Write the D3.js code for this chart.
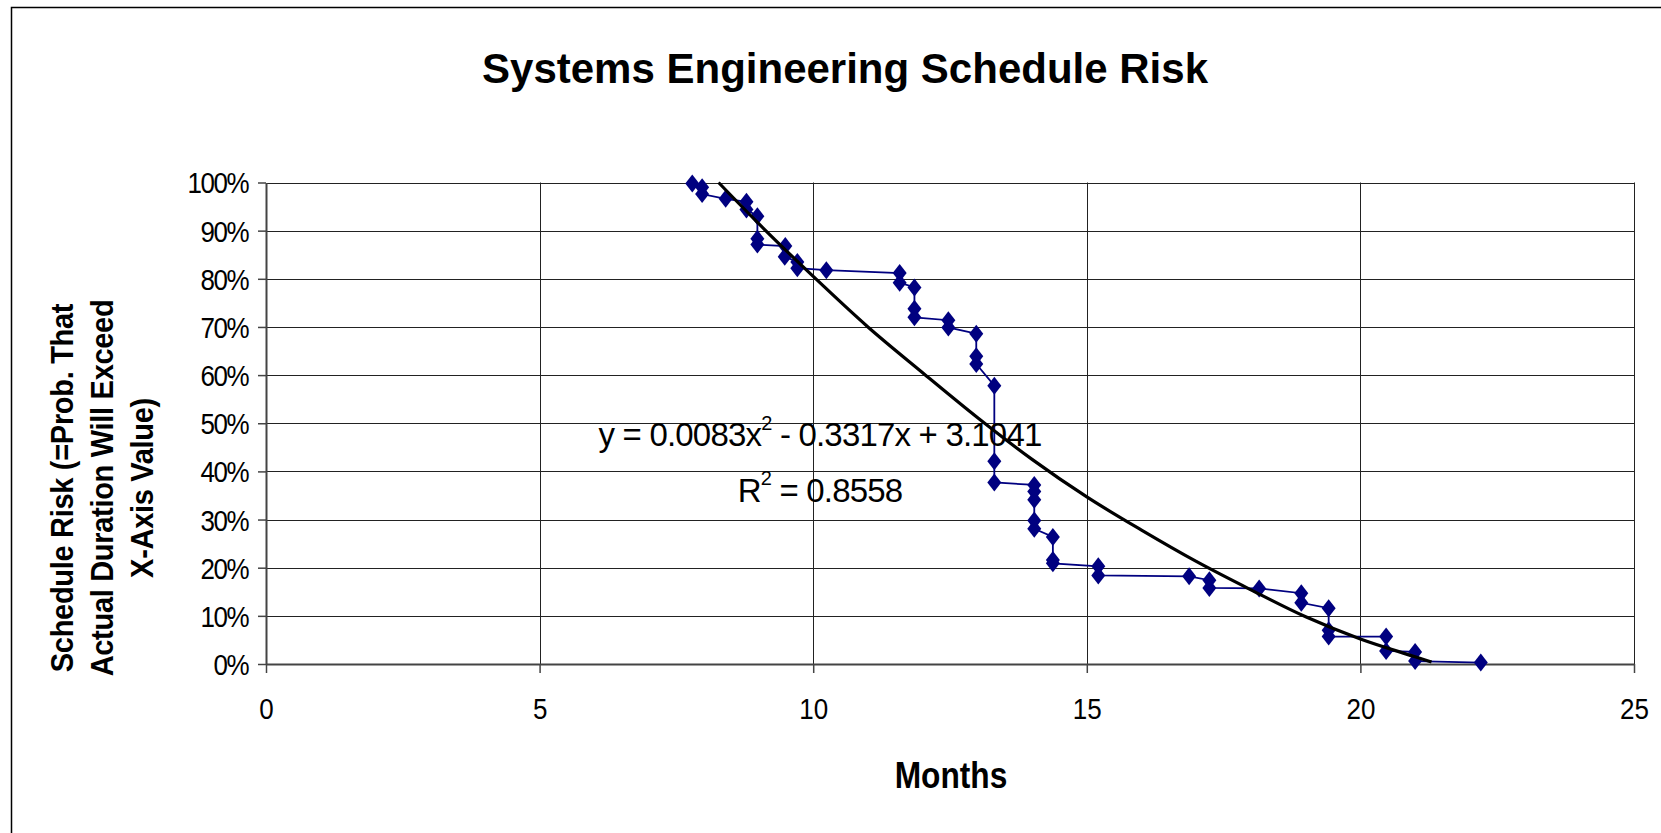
<!DOCTYPE html>
<html>
<head>
<meta charset="utf-8">
<script src="https://cdn.jsdelivr.net/npm/d3@7"></script>
<style>
  body { margin: 0; background: #fff; }
  text { font-family: "Liberation Sans", Arial, sans-serif; fill: #000; }
</style>
</head>
<body>
<svg id="chart" width="1661" height="833"></svg>
<script>
// observed duration (months) vs. probability of exceeding it (%)
var months = [7.79, 7.97, 7.97, 8.40, 8.78, 8.78, 8.98, 8.98, 8.98, 9.49,
              9.48, 9.71, 9.71, 10.24, 11.58, 11.58, 11.85, 11.85, 11.85, 12.47,
              12.47, 12.98, 12.98, 12.98, 13.31, 13.31, 13.31, 14.04, 14.04, 14.04,
              14.04, 14.04, 14.38, 14.38, 14.38, 15.21, 15.21, 16.87, 17.24, 17.24,
              18.15, 18.92, 18.92, 19.42, 19.42, 19.42, 20.47, 20.47, 21.0, 21.0,
              22.2];
var risk = [99.8, 99.0, 97.6, 96.6, 96.0, 94.4, 93.0, 88.3, 87.1, 86.8,
            84.6, 83.5, 82.2, 81.8, 81.2, 79.2, 78.2, 73.8, 72.0, 71.4,
            69.9, 68.6, 63.9, 62.3, 57.8, 42.1, 37.7, 37.2, 35.8, 34.1,
            29.8, 28.1, 26.4, 21.6, 20.9, 20.3, 18.4, 18.2, 17.4, 15.8,
            15.7, 14.7, 12.7, 11.6, 7.0, 5.7, 5.7, 2.7, 2.5, 0.6,
            0.3];

// polynomial trendline as drawn in the picture
var trendX = [8.27, 9, 10, 11, 12, 13, 14, 15, 16, 17, 18, 19, 20, 21, 21.3];
var trendY = [100, 91.5, 80.5, 70, 60.5, 51.2, 42.5, 34.7, 27.8, 21.3, 15.4, 9.8, 5.2, 1.5, 0.4];

var xTicks = [0, 5, 10, 15, 20, 25];
var yTicks = [0, 10, 20, 30, 40, 50, 60, 70, 80, 90, 100];

var title = "Systems Engineering Schedule Risk";
var xTitle = "Months";
var yTitle = ["Schedule Risk (=Prob. That", "Actual Duration Will Exceed", "X-Axis Value)"];

var svg = d3.select("#chart");
var plotL = 266, plotR = 1634, plotT = 182.5, plotB = 664;

svg.append("rect")
    .attr("x", 11.5).attr("y", 7.5)
    .attr("width", 1700).attr("height", 900)
    .attr("fill", "#fff").attr("stroke", "#000").attr("stroke-width", 1.5);

var x = d3.scaleLinear().domain([0, 25]).range([plotL, plotR]);
var y = d3.scaleLinear().domain([0, 100]).range([plotB, plotT]);

// gridlines
svg.append("g").selectAll("line")
    .data(yTicks.filter(function(d) { return d > 0; }))
    .enter().append("line")
    .attr("x1", plotL).attr("x2", plotR)
    .attr("y1", function(d) { return Math.round(y(d)) + 0.5; })
    .attr("y2", function(d) { return Math.round(y(d)) + 0.5; })
    .attr("stroke", "#222").attr("stroke-width", 1);

svg.append("g").selectAll("line")
    .data(xTicks.filter(function(d) { return d > 0; }))
    .enter().append("line")
    .attr("x1", function(d) { return Math.round(x(d)) + 0.5; })
    .attr("x2", function(d) { return Math.round(x(d)) + 0.5; })
    .attr("y1", plotT).attr("y2", plotB)
    .attr("stroke", "#222").attr("stroke-width", 1);

// axes
var xAxis = d3.axisBottom(x).tickValues(xTicks).tickSize(9).tickSizeOuter(0).tickPadding(0);
var yAxis = d3.axisLeft(y).tickValues(yTicks).tickSize(8).tickSizeOuter(0)
    .tickFormat(function(d) { return d + "%"; });

var gx = svg.append("g")
    .attr("transform", "translate(0," + plotB + ")")
    .call(xAxis);
gx.selectAll("text")
    .attr("y", 0).attr("dy", 0)
    .attr("transform", "translate(0,55) scale(1,1.15)")
    .style("font-size", "26px");

var gy = svg.append("g")
    .attr("transform", "translate(" + plotL + ",0)")
    .call(yAxis);
gy.selectAll("text")
    .attr("x", -18).attr("dy", "0.35em")
    .attr("transform", "scale(1,1.15)")
    .style("font-size", "26px")
    .style("letter-spacing", "-1.5px");

svg.selectAll(".domain").attr("stroke", "#444").attr("stroke-width", 2);
svg.selectAll(".tick line").attr("stroke", "#444").attr("stroke-width", 1.5);

// series: stepped line with diamond markers
var pts = months.map(function(m, i) { return [m, risk[i]]; });
var line = d3.line()
    .x(function(d) { return x(d[0]); })
    .y(function(d) { return y(d[1]); });

svg.append("path")
    .datum(pts)
    .attr("d", line)
    .attr("fill", "none")
    .attr("stroke", "#000080")
    .attr("stroke-width", 1.8);

svg.append("g").selectAll("path")
    .data(pts)
    .enter().append("path")
    .attr("d", "M0,-9L7,0L0,9L-7,0Z")
    .attr("transform", function(d) { return "translate(" + x(d[0]) + "," + y(d[1]) + ")"; })
    .attr("fill", "#000080");

// trendline on top
var trend = trendX.map(function(t, i) { return [t, trendY[i]]; });
svg.append("path")
    .datum(trend)
    .attr("d", line.curve(d3.curveMonotoneX))
    .attr("fill", "none")
    .attr("stroke", "#000")
    .attr("stroke-width", 3.2);

// trendline equation
var eq = svg.append("g").attr("transform", "translate(820,446) scale(1,1.03)");
var eqText = eq.append("text")
    .attr("text-anchor", "middle")
    .style("font-size", "33px")
    .style("letter-spacing", "-0.8px");
eqText.append("tspan").text("y = 0.0083x");
eqText.append("tspan").attr("dy", -16).style("font-size", "20px").text("2");
eqText.append("tspan").attr("dy", 16).text(" - 0.3317x + 3.1041");

var r2 = svg.append("g").attr("transform", "translate(820,501.7) scale(1,1.03)");
var r2Text = r2.append("text")
    .attr("text-anchor", "middle")
    .style("font-size", "33px")
    .style("letter-spacing", "-0.8px");
r2Text.append("tspan").text("R");
r2Text.append("tspan").attr("dy", -16).style("font-size", "20px").text("2");
r2Text.append("tspan").attr("dy", 16).text(" = 0.8558");

// titles
svg.append("text")
    .attr("x", 845).attr("y", 83.3)
    .attr("text-anchor", "middle")
    .attr("textLength", 726)
    .attr("lengthAdjust", "spacingAndGlyphs")
    .style("font-size", "42px")
    .style("font-weight", "bold")
    .text(title);

svg.append("g")
    .attr("transform", "translate(951,788.3) scale(1,1.18)")
    .append("text")
    .attr("text-anchor", "middle")
    .style("font-size", "31.7px")
    .style("font-weight", "bold")
    .text(xTitle);

var yt = svg.append("g").attr("transform", "translate(0,488) rotate(-90)");
yt.selectAll("g")
    .data(yTitle)
    .enter().append("g")
    .attr("transform", function(d, i) { return "translate(0," + (73.3 + i * 39.7) + ") scale(1,1.09)"; })
    .append("text")
    .attr("text-anchor", "middle")
    .style("font-size", "29px")
    .style("font-weight", "bold")
    .style("letter-spacing", "-0.3px")
    .text(function(d) { return d; });
</script>
</body>
</html>
